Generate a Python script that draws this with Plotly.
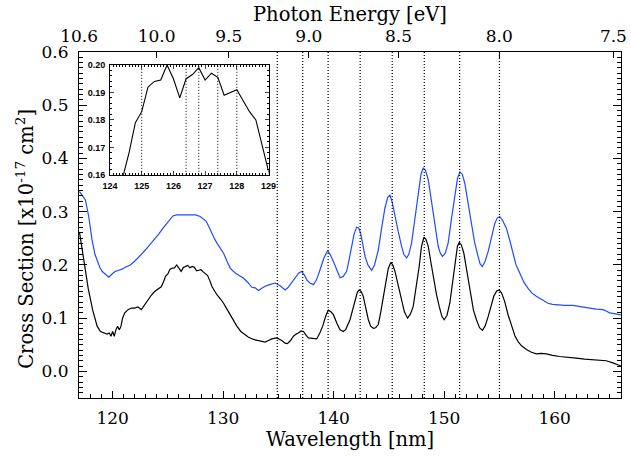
import plotly.graph_objects as go

# ---------------- data ----------------
wl_blue = [117.0, 117.3, 117.54, 117.84, 118.14, 118.4, 118.6, 118.85, 119.05, 119.35, 119.65, 119.95,
           120.25, 120.55, 120.85, 121.2, 121.6, 122.0, 122.36, 122.7, 122.96, 123.41, 123.8, 124.17,
           124.6, 125.07, 125.46, 125.8, 126.12, 126.6, 127.03, 127.5, 127.93, 128.2, 128.47, 128.7,
           128.89, 129.2, 129.44, 129.75, 130.04, 130.35, 130.64, 131.09, 131.5, 131.85, 132.2, 132.6,
           132.9, 133.2, 133.5, 133.8, 134.2, 134.7, 135.16, 135.4, 135.61, 135.85, 136.06, 136.35,
           136.6, 136.85, 137.11, 137.35, 137.57, 137.85, 138.17, 138.45, 138.77, 139.1, 139.46, 139.7,
           139.97, 140.3, 140.58, 140.85, 141.18, 141.4, 141.63, 141.85, 142.08, 142.25, 142.44, 142.65,
           142.84, 143.1, 143.44, 143.7, 144.04, 144.35, 144.64, 144.9, 145.09, 145.3, 145.55, 145.85,
           146.15, 146.35, 146.6, 146.8, 147.05, 147.35, 147.65, 147.9, 148.1, 148.3, 148.56, 148.8,
           149.01, 149.25, 149.46, 149.65, 149.85, 150.1, 150.36, 150.65, 150.97, 151.2, 151.42, 151.65,
           151.87, 152.15, 152.47, 152.75, 153.07, 153.25, 153.46, 153.7, 153.98, 154.3, 154.58, 154.8,
           155.03, 155.3, 155.63, 155.95, 156.23, 156.5, 156.84, 157.2, 157.59, 157.95, 158.34, 158.9,
           159.4, 159.8, 160.15, 160.9, 161.66, 162.4, 163.16, 163.8, 164.37, 164.7, 164.97, 165.5, 166.0]
xs_blue = [0.338, 0.330, 0.322, 0.291, 0.247, 0.220, 0.207, 0.195, 0.188, 0.182, 0.177, 0.183,
           0.188, 0.190, 0.192, 0.196, 0.200, 0.207, 0.214, 0.222, 0.228, 0.239, 0.248, 0.258,
           0.270, 0.283, 0.292, 0.294, 0.294, 0.295, 0.295, 0.294, 0.291, 0.287, 0.282, 0.272,
           0.263, 0.250, 0.241, 0.231, 0.222, 0.207, 0.194, 0.185, 0.180, 0.175, 0.168, 0.158,
           0.157, 0.152, 0.156, 0.160, 0.163, 0.166, 0.161, 0.157, 0.153, 0.157, 0.163, 0.172,
           0.179, 0.185, 0.188, 0.181, 0.172, 0.166, 0.163, 0.172, 0.191, 0.212, 0.227, 0.219,
           0.207, 0.188, 0.176, 0.178, 0.188, 0.210, 0.237, 0.258, 0.271, 0.270, 0.260, 0.238,
           0.216, 0.200, 0.190, 0.200, 0.228, 0.270, 0.307, 0.327, 0.331, 0.318, 0.291, 0.262,
           0.235, 0.220, 0.213, 0.220, 0.241, 0.285, 0.335, 0.370, 0.382, 0.378, 0.360, 0.325,
           0.291, 0.258, 0.235, 0.222, 0.216, 0.222, 0.241, 0.285, 0.335, 0.362, 0.375, 0.370,
           0.353, 0.318, 0.278, 0.243, 0.216, 0.202, 0.197, 0.207, 0.225, 0.255, 0.278, 0.288,
           0.291, 0.283, 0.269, 0.245, 0.222, 0.200, 0.185, 0.168, 0.156, 0.147, 0.141, 0.134,
           0.128, 0.126, 0.125, 0.124, 0.124, 0.121, 0.119, 0.117, 0.116, 0.113, 0.110, 0.108, 0.106]

wl_black = [117.0, 117.2, 117.4, 117.8, 118.2, 118.6, 118.9, 119.2, 119.5, 119.7, 119.85, 120.0,
            120.15, 120.3, 120.45, 120.6, 120.75, 120.9, 121.1, 121.4, 121.7, 122.0, 122.3, 122.6,
            122.9, 123.2, 123.5, 123.8, 124.0, 124.2, 124.4, 124.6, 124.8, 125.0, 125.2, 125.4,
            125.6, 125.8, 126.0, 126.2, 126.4, 126.6, 126.8, 127.0, 127.2, 127.4, 127.6, 127.8,
            128.0, 128.2, 128.4, 128.6, 128.8, 129.0, 129.2, 129.44, 129.8, 130.04, 130.4, 130.64,
            131.0, 131.24, 131.6, 131.85, 132.3, 132.75, 133.3, 133.8, 134.1, 134.4, 134.85, 135.1,
            135.31, 135.6, 135.82, 136.1, 136.36, 136.6, 136.81, 137.05, 137.27, 137.5, 137.72, 138.1,
            138.47, 138.75, 139.01, 139.3, 139.52, 139.75, 139.97, 140.3, 140.58, 140.88, 141.1, 141.48,
            141.7, 141.93, 142.15, 142.32, 142.5, 142.68, 142.9, 143.14, 143.35, 143.59, 143.8, 144.04,
            144.25, 144.49, 144.7, 144.94, 145.18, 145.35, 145.55, 145.85, 146.15, 146.4, 146.69, 146.95,
            147.2, 147.45, 147.74, 147.95, 148.17, 148.35, 148.56, 148.8, 149.01, 149.3, 149.55, 149.8,
            150.0, 150.25, 150.51, 150.75, 150.97, 151.2, 151.36, 151.55, 151.78, 152.1, 152.38, 152.65,
            152.92, 153.2, 153.46, 153.7, 153.98, 154.25, 154.49, 154.75, 154.97, 155.2, 155.48, 155.8,
            156.08, 156.4, 156.69, 157.0, 157.44, 157.9, 158.34, 158.8, 159.24, 159.8, 160.45, 161.2,
            161.96, 162.7, 163.46, 164.1, 164.66, 165.27, 165.87, 166.0]
xs_black = [0.262, 0.235, 0.200, 0.155, 0.115, 0.085, 0.075, 0.073, 0.070, 0.072, 0.066, 0.075,
            0.066, 0.078, 0.085, 0.078, 0.084, 0.100, 0.110, 0.116, 0.119, 0.119, 0.121, 0.116,
            0.125, 0.135, 0.143, 0.150, 0.153, 0.155, 0.159, 0.168, 0.179, 0.183, 0.192, 0.194,
            0.1945, 0.200, 0.195, 0.188, 0.195, 0.1965, 0.199, 0.1945, 0.197, 0.1955, 0.189, 0.190,
            0.191, 0.187, 0.183, 0.180, 0.170, 0.159, 0.152, 0.144, 0.135, 0.128, 0.115, 0.106,
            0.093, 0.085, 0.075, 0.071, 0.064, 0.060, 0.057, 0.055, 0.058, 0.061, 0.063, 0.061,
            0.058, 0.053, 0.052, 0.058, 0.066, 0.070, 0.072, 0.076, 0.075, 0.068, 0.063, 0.062,
            0.061, 0.072, 0.085, 0.105, 0.115, 0.112, 0.107, 0.090, 0.078, 0.075, 0.079, 0.097,
            0.115, 0.135, 0.149, 0.153, 0.150, 0.141, 0.120, 0.097, 0.085, 0.081, 0.082, 0.088,
            0.110, 0.141, 0.170, 0.193, 0.205, 0.200, 0.188, 0.160, 0.135, 0.112, 0.100, 0.108,
            0.122, 0.155, 0.197, 0.235, 0.252, 0.248, 0.235, 0.205, 0.178, 0.145, 0.122, 0.103,
            0.097, 0.105, 0.128, 0.165, 0.203, 0.235, 0.242, 0.238, 0.222, 0.185, 0.147, 0.115,
            0.097, 0.082, 0.077, 0.085, 0.103, 0.125, 0.141, 0.151, 0.153, 0.147, 0.131, 0.105,
            0.085, 0.067, 0.056, 0.048, 0.041, 0.036, 0.033, 0.034, 0.033, 0.030, 0.028, 0.027,
            0.025, 0.023, 0.022, 0.021, 0.020, 0.016, 0.011, 0.010]

marker_nm = [134.9, 137.2, 139.5, 142.4, 145.3, 148.2, 151.4, 155.0]      # dotted lines, main
inset_marker_nm = [125.0, 126.4, 126.8, 127.4, 128.0]                      # dotted lines, inset

energy_values = [10.6, 10.0, 9.5, 9.0, 8.5, 8.0, 7.5]
energy_labels = ["10.6", "10.0", "9.5", "9.0", "8.5", "8.0", "7.5"]
x_range = [116.96, 166.0]
y_range = [-0.05, 0.6]
inset_x_range = [124.0, 129.0]
inset_y_range = [0.16, 0.20]

HC = 1239.84
energy_pos = [HC / e for e in energy_values]

FONT = "DejaVu Serif"
DOT = "1px,2px"
fig = go.Figure()

fig.add_trace(go.Scatter(x=wl_blue, y=xs_blue, mode="lines",
                         line=dict(color="#1f4cff", width=1.2), showlegend=False))
fig.add_trace(go.Scatter(x=wl_black, y=xs_black, mode="lines",
                         line=dict(color="black", width=1.2), showlegend=False))
# carrier for the top (photon energy) axis
fig.add_trace(go.Scatter(x=x_range, y=[None, None], mode="lines", xaxis="x2", yaxis="y",
                         showlegend=False, hoverinfo="skip"))
# inset
fig.add_trace(go.Scatter(x=wl_black, y=xs_black, mode="lines", xaxis="x3", yaxis="y3",
                         line=dict(color="black", width=1.1), showlegend=False))

shapes = []
for m in marker_nm:
    shapes.append(dict(type="line", xref="x", yref="paper", x0=m, x1=m, y0=0, y1=1,
                       line=dict(color="black", width=1.2, dash=DOT)))
for m in inset_marker_nm:
    shapes.append(dict(type="line", xref="x3", yref="y3 domain", x0=m, x1=m, y0=0, y1=1,
                       line=dict(color="black", width=1, dash=DOT)))

title_font = dict(family=FONT, size=19.5, color="black")
annotations = [
    dict(text="Photon Energy [eV]", xref="paper", yref="paper", x=0.5, y=1.108,
         xanchor="center", yanchor="middle", showarrow=False, font=title_font),
    dict(text="Wavelength [nm]", xref="paper", yref="paper", x=0.5, y=-0.121,
         xanchor="center", yanchor="middle", showarrow=False, font=title_font),
    dict(text="Cross Section [x10<sup>-17</sup> cm<sup>2</sup>]", xref="paper", yref="paper",
         x=-0.0996, y=0.46, xanchor="center", yanchor="middle", textangle=-90,
         showarrow=False, font=title_font),
]

axis_common = dict(showline=True, linecolor="black", linewidth=1.2, ticks="inside",
                   tickcolor="black", showgrid=False, zeroline=False, automargin=False,
                   ticklabeloverflow="allow",
                   tickfont=dict(family=FONT, size=17, color="black"))
inset_font = dict(family="Liberation Sans", size=9, color="black", weight="bold")

fig.update_layout(
    width=631, height=458,
    margin=dict(l=79, r=10, t=52, b=60),
    paper_bgcolor="white", plot_bgcolor="white",
    shapes=shapes, annotations=annotations,
    xaxis=dict(range=x_range, tickvals=[120, 130, 140, 150, 160], ticklen=7, tickwidth=1.2,
               minor=dict(dtick=1, tick0=0, ticklen=3.5, tickcolor="black", ticks="inside",
                          tickwidth=1),
               mirror=True, ticklabelstandoff=4, **axis_common),
    xaxis2=dict(range=x_range, overlaying="x", side="top", anchor="y", tickvals=energy_pos,
                ticktext=energy_labels, ticklen=6, tickwidth=1.2, ticklabelstandoff=2,
                **axis_common),
    yaxis=dict(range=y_range, tickvals=[0.0, 0.1, 0.2, 0.3, 0.4, 0.5, 0.6], tickformat=".1f",
               ticklen=8, tickwidth=1.2, mirror="ticks", ticklabelstandoff=6,
               minor=dict(dtick=0.01, tick0=0, ticklen=4, tickcolor="black", ticks="inside",
                          tickwidth=1),
               **axis_common),
    xaxis3=dict(domain=[0.0572, 0.3497], anchor="y3", range=inset_x_range,
                tickvals=[124, 125, 126, 127, 128, 129], ticks="inside", ticklen=4,
                minor=dict(dtick=0.1, ticklen=2, tickcolor="black", ticks="inside"),
                showline=True, linecolor="black", linewidth=1, mirror="ticks", showgrid=False,
                zeroline=False, ticklabelstandoff=2, automargin=False, tickfont=inset_font),
    yaxis3=dict(domain=[0.645, 0.9625], anchor="x3", range=inset_y_range,
                tickvals=[0.16, 0.17, 0.18, 0.19, 0.20], tickformat=".2f", ticks="inside",
                ticklen=4, minor=dict(dtick=0.002, ticklen=2, tickcolor="black", ticks="inside"),
                showline=True, linecolor="black", linewidth=1, mirror="ticks", showgrid=False,
                zeroline=False, ticklabelstandoff=2, automargin=False, tickfont=inset_font),
)

fig.write_html("out.html", config={"displayModeBar": False},
               post_script="document.body.style.margin='0';document.body.style.overflow='hidden';")
